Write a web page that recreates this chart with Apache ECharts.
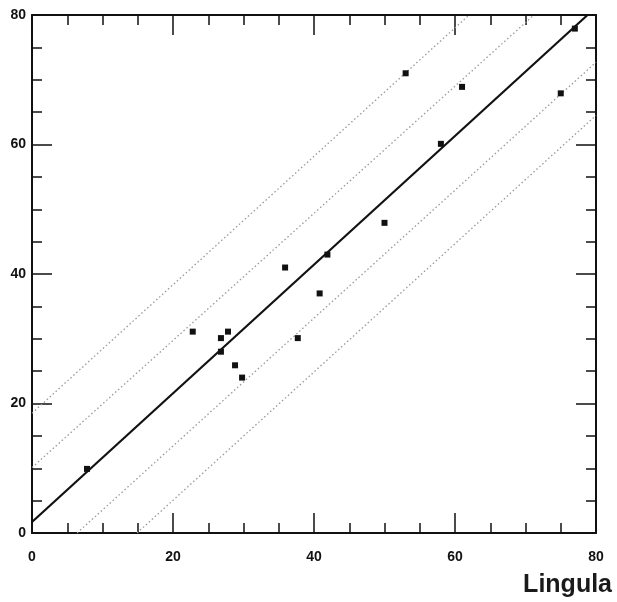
<!DOCTYPE html>
<html style="height: 100%">
<head>
    <meta charset="utf-8">
</head>
<body style="height: 100%; margin: 0; background: #fff">
    <div id="main" style="height: 100%"></div>
    <script src="https://cdn.jsdelivr.net/npm/echarts@6/dist/echarts.min.js"></script>
    <script type="text/javascript">

        // points
        var xVals = [7.8, 22.8, 26.8, 27.8, 26.8, 28.8, 29.8, 37.7, 35.9, 40.8, 41.9, 50.0, 53.0, 58.0, 61.0, 75.0, 77.0];
        var yVals = [9.9, 31.1, 30.1, 31.1, 28.0, 25.9, 24.0, 30.1, 41.0, 37.0, 43.0, 47.9, 71.0, 60.1, 68.9, 67.9, 77.9];

        // fitted line and the bands around it (end points)
        var fitLine = [[0, 1.7], [78.8, 80]];
        var upperInner = [[0, 10.1], [71.2, 80]];
        var upperOuter = [[0, 18.5], [62, 80]];
        var lowerInner = [[6.4, 0], [80, 72.7]];
        var lowerOuter = [[14.9, 0], [80, 64.5]];

        var tickLabels = ['0', '20', '40', '60', '80'];

        var chartDom = document.getElementById('main');
        var myChart = echarts.init(chartDom);

        var points = xVals.map(function (x, i) {
            return [x, yVals[i]];
        });

        var font = '"Liberation Sans", Arial, sans-serif';

        function axis(pos, showLabel) {
            return {
                type: 'value',
                position: pos,
                min: 0,
                max: 80,
                interval: 20,
                axisLine: { show: true, onZero: false, lineStyle: { color: '#111', width: 2 } },
                axisTick: { show: true, inside: true, length: 20, lineStyle: { color: '#111', width: 1.5 } },
                minorTick: { show: true, splitNumber: 4, length: 10, lineStyle: { color: '#111', width: 1.5 } },
                splitLine: { show: false },
                axisLabel: {
                    show: showLabel,
                    color: '#111',
                    fontFamily: font,
                    fontWeight: 'bold',
                    fontSize: 14,
                    margin: (pos === 'bottom') ? 17 : 6,
                    formatter: function (v) {
                        var idx = tickLabels.indexOf(String(v));
                        return idx >= 0 ? tickLabels[idx] : '';
                    }
                }
            };
        }

        function band(data) {
            return {
                type: 'line',
                data: data,
                symbol: 'none',
                silent: true,
                lineStyle: { color: '#999', width: 1.3, type: [1.5, 2.5] },
                z: 2
            };
        }

        var option = {
            animation: false,
            backgroundColor: '#fff',
            title: {
                text: 'Lingula',
                right: 0,
                top: 573,
                padding: [0, 5, 0, 0],
                textStyle: { fontFamily: font, fontWeight: 'bold', fontSize: 25, color: '#1a1a1a' }
            },
            grid: { left: 32, right: 21, top: 15, bottom: 69 },
            xAxis: [axis('bottom', true), axis('top', false)],
            yAxis: [axis('left', true), axis('right', false)],
            series: [
                band(upperOuter),
                band(upperInner),
                band(lowerInner),
                band(lowerOuter),
                {
                    type: 'line',
                    data: fitLine,
                    symbol: 'none',
                    silent: true,
                    lineStyle: { color: '#111', width: 2.2 },
                    z: 3
                },
                {
                    type: 'scatter',
                    data: points,
                    symbol: 'rect',
                    symbolSize: 6,
                    itemStyle: { color: '#111', opacity: 1 },
                    z: 4
                }
            ]
        };

        myChart.setOption(option);

    </script>
</body>
</html>
